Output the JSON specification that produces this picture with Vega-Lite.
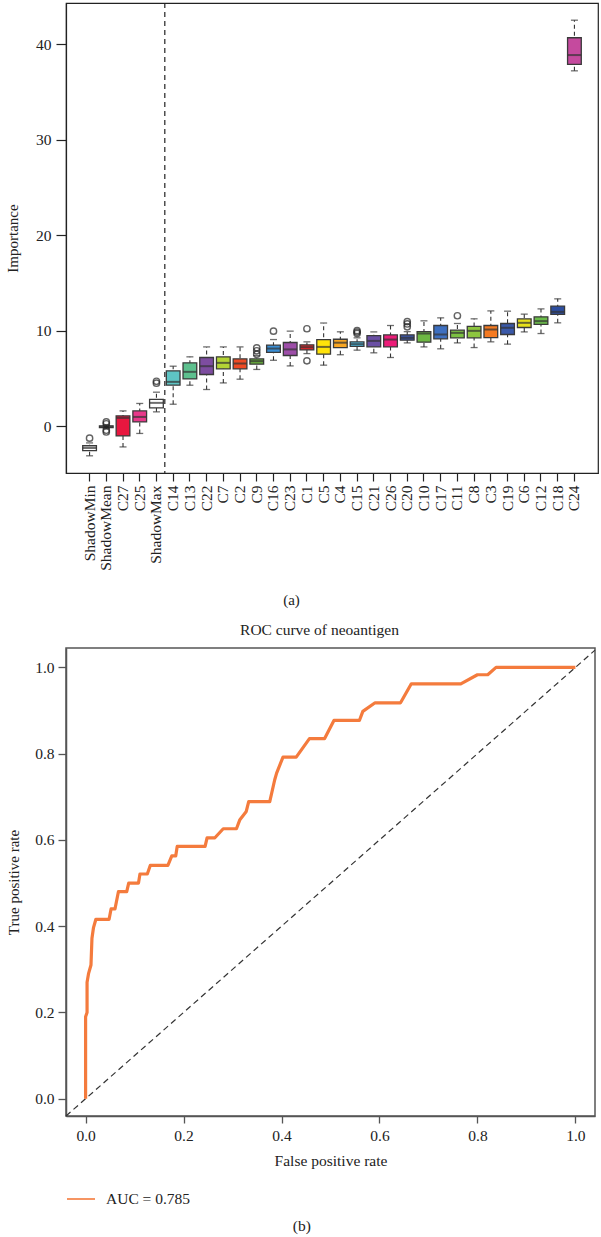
{
  "$schema": "https://vega.github.io/schema/vega-lite/v6.json",
  "padding": {"left": 4, "top": 1, "right": 0, "bottom": 0},
  "background": "white",
  "config": {
    "font": "Liberation Serif",
    "view": {"stroke": null},
    "axis": {"labelColor": "#222", "titleColor": "#222", "titleFontWeight": "normal", "grid": false}
  },
  "title": {"text": "(b)", "orient": "bottom", "anchor": "middle", "fontSize": 15.5, "fontWeight": "normal", "color": "#222", "offset": 10},
  "spacing": 14,
  "resolve": {"scale": {"color": "independent"}, "legend": {"color": "independent"}},
  "datasets": {
    "boxes": [
      {"name": "ShadowMin", "lo": -3.1, "q1": -2.55, "med": -2.28, "q3": -2.05, "hi": -1.75},
      {"name": "ShadowMean", "lo": -0.25, "q1": -0.15, "med": -0.05, "q3": 0.02, "hi": 0.12},
      {"name": "C27", "lo": -2.17, "q1": -1.02, "med": 0.87, "q3": 1.08, "hi": 1.6},
      {"name": "C25", "lo": -0.76, "q1": 0.45, "med": 0.97, "q3": 1.6, "hi": 2.38},
      {"name": "ShadowMax", "lo": 1.5, "q1": 1.92, "med": 2.44, "q3": 2.8, "hi": 3.56},
      {"name": "C14", "lo": 2.3, "q1": 4.29, "med": 4.64, "q3": 5.8, "hi": 6.28},
      {"name": "C13", "lo": 4.29, "q1": 4.95, "med": 5.69, "q3": 6.63, "hi": 7.26},
      {"name": "C22", "lo": 3.84, "q1": 5.41, "med": 6.28, "q3": 7.19, "hi": 8.3},
      {"name": "C7", "lo": 4.53, "q1": 6.0, "med": 6.63, "q3": 7.26, "hi": 8.3},
      {"name": "C2", "lo": 4.92, "q1": 6.0, "med": 6.56, "q3": 7.05, "hi": 8.3},
      {"name": "C9", "lo": 5.94, "q1": 6.49, "med": 6.81, "q3": 7.05, "hi": 7.4},
      {"name": "C16", "lo": 6.9, "q1": 7.72, "med": 8.13, "q3": 8.48, "hi": 9.07},
      {"name": "C23", "lo": 6.31, "q1": 7.4, "med": 8.04, "q3": 8.76, "hi": 9.95},
      {"name": "C1", "lo": 7.6, "q1": 7.99, "med": 8.27, "q3": 8.52, "hi": 8.83},
      {"name": "C5", "lo": 6.39, "q1": 7.54, "med": 8.3, "q3": 9.07, "hi": 10.8},
      {"name": "C4", "lo": 7.48, "q1": 8.22, "med": 8.74, "q3": 9.1, "hi": 9.88},
      {"name": "C15", "lo": 7.96, "q1": 8.35, "med": 8.59, "q3": 8.83, "hi": 9.25},
      {"name": "C21", "lo": 7.68, "q1": 8.3, "med": 8.93, "q3": 9.49, "hi": 9.87},
      {"name": "C26", "lo": 7.19, "q1": 8.3, "med": 9.07, "q3": 9.56, "hi": 10.54},
      {"name": "C20", "lo": 8.72, "q1": 9.0, "med": 9.25, "q3": 9.56, "hi": 9.9},
      {"name": "C10", "lo": 8.3, "q1": 8.79, "med": 9.7, "q3": 9.9, "hi": 11.03},
      {"name": "C17", "lo": 8.1, "q1": 9.14, "med": 9.6, "q3": 10.54, "hi": 11.34},
      {"name": "C11", "lo": 8.72, "q1": 9.25, "med": 9.77, "q3": 10.05, "hi": 10.75},
      {"name": "C8", "lo": 8.23, "q1": 9.25, "med": 9.98, "q3": 10.44, "hi": 11.24},
      {"name": "C3", "lo": 8.83, "q1": 9.28, "med": 10.12, "q3": 10.54, "hi": 12.07},
      {"name": "C19", "lo": 8.59, "q1": 9.6, "med": 10.3, "q3": 10.75, "hi": 12.04},
      {"name": "C6", "lo": 9.87, "q1": 10.33, "med": 10.82, "q3": 11.24, "hi": 11.73},
      {"name": "C12", "lo": 9.7, "q1": 10.65, "med": 11.0, "q3": 11.45, "hi": 12.28},
      {"name": "C18", "lo": 10.82, "q1": 11.7, "med": 11.97, "q3": 12.57, "hi": 13.33},
      {"name": "C24", "lo": 37.2, "q1": 37.87, "med": 38.85, "q3": 40.66, "hi": 42.5}
    ],
    "outliers": [
      {"name": "ShadowMin", "value": -1.25},
      {"name": "ShadowMean", "value": 0.45},
      {"name": "ShadowMean", "value": 0.25},
      {"name": "ShadowMean", "value": -0.42},
      {"name": "ShadowMean", "value": -0.6},
      {"name": "ShadowMax", "value": 4.5},
      {"name": "ShadowMax", "value": 4.7},
      {"name": "C9", "value": 7.54},
      {"name": "C9", "value": 7.89},
      {"name": "C9", "value": 8.2},
      {"name": "C16", "value": 9.95},
      {"name": "C1", "value": 10.2},
      {"name": "C1", "value": 6.84},
      {"name": "C15", "value": 9.7},
      {"name": "C15", "value": 9.85},
      {"name": "C15", "value": 10.0},
      {"name": "C20", "value": 10.4},
      {"name": "C20", "value": 10.7},
      {"name": "C20", "value": 10.95},
      {"name": "C11", "value": 11.56}
    ],
    "split": [{"name": "ShadowMax"}],
    "roc": [
      {"fpr": 0, "tpr": 0, "label": "AUC = 0.785"},
      {"fpr": 0, "tpr": 0.19, "label": "AUC = 0.785"},
      {"fpr": 0.003, "tpr": 0.2, "label": "AUC = 0.785"},
      {"fpr": 0.003, "tpr": 0.27, "label": "AUC = 0.785"},
      {"fpr": 0.006, "tpr": 0.29, "label": "AUC = 0.785"},
      {"fpr": 0.011, "tpr": 0.31, "label": "AUC = 0.785"},
      {"fpr": 0.013, "tpr": 0.372, "label": "AUC = 0.785"},
      {"fpr": 0.016, "tpr": 0.396, "label": "AUC = 0.785"},
      {"fpr": 0.021, "tpr": 0.416, "label": "AUC = 0.785"},
      {"fpr": 0.048, "tpr": 0.416, "label": "AUC = 0.785"},
      {"fpr": 0.052, "tpr": 0.44, "label": "AUC = 0.785"},
      {"fpr": 0.06, "tpr": 0.44, "label": "AUC = 0.785"},
      {"fpr": 0.067, "tpr": 0.48, "label": "AUC = 0.785"},
      {"fpr": 0.084, "tpr": 0.48, "label": "AUC = 0.785"},
      {"fpr": 0.088, "tpr": 0.5, "label": "AUC = 0.785"},
      {"fpr": 0.108, "tpr": 0.5, "label": "AUC = 0.785"},
      {"fpr": 0.111, "tpr": 0.521, "label": "AUC = 0.785"},
      {"fpr": 0.126, "tpr": 0.521, "label": "AUC = 0.785"},
      {"fpr": 0.132, "tpr": 0.541, "label": "AUC = 0.785"},
      {"fpr": 0.168, "tpr": 0.541, "label": "AUC = 0.785"},
      {"fpr": 0.176, "tpr": 0.563, "label": "AUC = 0.785"},
      {"fpr": 0.184, "tpr": 0.563, "label": "AUC = 0.785"},
      {"fpr": 0.187, "tpr": 0.585, "label": "AUC = 0.785"},
      {"fpr": 0.244, "tpr": 0.585, "label": "AUC = 0.785"},
      {"fpr": 0.248, "tpr": 0.605, "label": "AUC = 0.785"},
      {"fpr": 0.264, "tpr": 0.605, "label": "AUC = 0.785"},
      {"fpr": 0.281, "tpr": 0.626, "label": "AUC = 0.785"},
      {"fpr": 0.308, "tpr": 0.626, "label": "AUC = 0.785"},
      {"fpr": 0.315, "tpr": 0.647, "label": "AUC = 0.785"},
      {"fpr": 0.328, "tpr": 0.666, "label": "AUC = 0.785"},
      {"fpr": 0.333, "tpr": 0.689, "label": "AUC = 0.785"},
      {"fpr": 0.376, "tpr": 0.689, "label": "AUC = 0.785"},
      {"fpr": 0.386, "tpr": 0.739, "label": "AUC = 0.785"},
      {"fpr": 0.39, "tpr": 0.755, "label": "AUC = 0.785"},
      {"fpr": 0.403, "tpr": 0.792, "label": "AUC = 0.785"},
      {"fpr": 0.43, "tpr": 0.792, "label": "AUC = 0.785"},
      {"fpr": 0.457, "tpr": 0.835, "label": "AUC = 0.785"},
      {"fpr": 0.488, "tpr": 0.835, "label": "AUC = 0.785"},
      {"fpr": 0.507, "tpr": 0.877, "label": "AUC = 0.785"},
      {"fpr": 0.559, "tpr": 0.877, "label": "AUC = 0.785"},
      {"fpr": 0.566, "tpr": 0.898, "label": "AUC = 0.785"},
      {"fpr": 0.591, "tpr": 0.918, "label": "AUC = 0.785"},
      {"fpr": 0.643, "tpr": 0.918, "label": "AUC = 0.785"},
      {"fpr": 0.665, "tpr": 0.962, "label": "AUC = 0.785"},
      {"fpr": 0.766, "tpr": 0.962, "label": "AUC = 0.785"},
      {"fpr": 0.8, "tpr": 0.983, "label": "AUC = 0.785"},
      {"fpr": 0.821, "tpr": 0.983, "label": "AUC = 0.785"},
      {"fpr": 0.838, "tpr": 1.0, "label": "AUC = 0.785"},
      {"fpr": 1.0, "tpr": 1.0, "label": "AUC = 0.785"}
    ],
    "diag": [{"fpr": -0.04, "tpr": -0.04}, {"fpr": 1.04, "tpr": 1.04}]
  },
  "vconcat": [
    {
      "width": 532,
      "height": 470,
      "view": {"stroke": "#222", "strokeWidth": 1.2},
      "encoding": {
        "x": {
          "field": "name", "type": "nominal", "title": "(a)",
          "scale": {
            "domain": ["ShadowMin", "ShadowMean", "C27", "C25", "ShadowMax", "C14", "C13", "C22", "C7", "C2", "C9", "C16", "C23", "C1", "C5", "C4", "C15", "C21", "C26", "C20", "C10", "C17", "C11", "C8", "C3", "C19", "C6", "C12", "C18", "C24"],
            "paddingInner": 0.18, "paddingOuter": 1.18
          },
          "axis": {
            "labelAngle": -90, "labelFontSize": 15.5, "labelPadding": 4, "tickSize": 8,
            "domainColor": "#222", "tickColor": "#222", "tickWidth": 1.2, "domainWidth": 1.2,
            "titleFontSize": 15, "titlePadding": 22, "titleX": 225, "titleAlign": "center"
          }
        }
      },
      "layer": [
        {
          "data": {"name": "boxes"},
          "mark": {"type": "rule", "strokeDash": [4, 3], "color": "#333", "strokeWidth": 1.1},
          "encoding": {
            "y": {
              "field": "lo", "type": "quantitative", "title": "Importance",
              "scale": {"domain": [-4.9, 44.3], "nice": false, "zero": false},
              "axis": {
                "values": [0, 10, 20, 30, 40], "labelFontSize": 15.5, "tickSize": 10, "labelPadding": 5,
                "domainColor": "#222", "tickColor": "#222", "tickWidth": 1.2, "domainWidth": 1.2,
                "titleFontSize": 15, "titlePadding": 15
              }
            },
            "y2": {"field": "hi"}
          }
        },
        {
          "data": {"name": "boxes"},
          "mark": {"type": "tick", "color": "#333", "size": 7, "thickness": 1.3},
          "encoding": {"y": {"field": "lo", "type": "quantitative", "title": "Importance"}}
        },
        {
          "data": {"name": "boxes"},
          "mark": {"type": "tick", "color": "#333", "size": 7, "thickness": 1.3},
          "encoding": {"y": {"field": "hi", "type": "quantitative", "title": "Importance"}}
        },
        {
          "data": {"name": "boxes"},
          "mark": {"type": "bar", "stroke": "#3a3a3a", "strokeWidth": 1.3, "opacity": 1},
          "encoding": {
            "y": {"field": "q1", "type": "quantitative", "title": "Importance"},
            "y2": {"field": "q3"},
            "color": {
              "field": "name", "type": "nominal", "legend": null,
              "scale": {
                "domain": ["ShadowMin", "ShadowMean", "C27", "C25", "ShadowMax", "C14", "C13", "C22", "C7", "C2", "C9", "C16", "C23", "C1", "C5", "C4", "C15", "C21", "C26", "C20", "C10", "C17", "C11", "C8", "C3", "C19", "C6", "C12", "C18", "C24"],
                "range": ["#ffffff", "#ffffff", "#E8173F", "#E8388A", "#ffffff", "#5EC4C4", "#5DC08E", "#7D4DA0", "#B3D335", "#EF4A24", "#68AE3C", "#3A8FD6", "#9D4EA8", "#E7252A", "#FFE30A", "#F8A623", "#4EC3EA", "#6A4FA4", "#EC1C78", "#3C55A6", "#6DB843", "#3D6FC0", "#7CC143", "#8DC53F", "#F47A21", "#3A59A9", "#E6E01B", "#6CBD4B", "#2D4E9F", "#C54A9E"]
              }
            }
          }
        },
        {
          "data": {"name": "boxes"},
          "mark": {"type": "tick", "color": "#333", "size": 13.5, "thickness": 2},
          "encoding": {"y": {"field": "med", "type": "quantitative", "title": "Importance"}}
        },
        {
          "data": {"name": "outliers"},
          "mark": {"type": "point", "shape": "circle", "filled": false, "size": 40, "stroke": "#222", "strokeWidth": 1.4},
          "encoding": {"y": {"field": "value", "type": "quantitative", "title": "Importance"}}
        },
        {
          "data": {"name": "split"},
          "mark": {"type": "rule", "strokeDash": [5, 4], "color": "#222", "strokeWidth": 1.2},
          "encoding": {
            "x": {"field": "name", "type": "nominal", "title": "(a)", "bandPosition": 1.11}
          }
        }
      ]
    },
    {
      "width": 529,
      "height": 468,
      "view": {"stroke": "#555", "strokeWidth": 1.5},
      "title": {"text": "ROC curve of neoantigen", "fontSize": 15.5, "fontWeight": "normal", "color": "#222", "offset": 9, "dx": -11},
      "encoding": {
        "x": {
          "field": "fpr", "type": "quantitative", "title": "False positive rate",
          "scale": {"domain": [-0.04, 1.04], "nice": false, "zero": false},
          "axis": {
            "values": [0, 0.2, 0.4, 0.6, 0.8, 1.0], "format": ".1f", "labelFontSize": 15.5, "tickSize": 7,
            "labelPadding": 5, "domainColor": "#555", "tickColor": "#555", "domainWidth": 1.5, "tickWidth": 1.3,
            "titleFontSize": 15.5, "titlePadding": 10
          }
        },
        "y": {
          "field": "tpr", "type": "quantitative", "title": "True positive rate",
          "scale": {"domain": [-0.04, 1.045], "nice": false, "zero": false},
          "axis": {
            "values": [0, 0.2, 0.4, 0.6, 0.8, 1.0], "format": ".1f", "labelFontSize": 15.5, "tickSize": 8,
            "labelPadding": 4, "domainColor": "#555", "tickColor": "#555", "domainWidth": 1.5, "tickWidth": 1.3,
            "titleFontSize": 15, "titlePadding": 13
          }
        }
      },
      "layer": [
        {
          "data": {"name": "diag"},
          "mark": {"type": "line", "color": "#333", "strokeDash": [6, 4], "strokeWidth": 1.2},
          "encoding": {}
        },
        {
          "data": {"name": "roc"},
          "mark": {"type": "line", "strokeWidth": 3.2, "strokeJoin": "round"},
          "encoding": {
            "order": {"value": null},
            "color": {
              "field": "label", "type": "nominal",
              "scale": {"domain": ["AUC = 0.785"], "range": ["#F47B3D"]},
              "legend": {
                "orient": "bottom", "title": null, "symbolType": "stroke", "symbolSize": 784,
                "symbolStrokeWidth": 1.6, "labelFontSize": 15.5, "labelColor": "#222", "offset": 15, "labelOffset": 10
              }
            }
          }
        }
      ]
    }
  ]
}
